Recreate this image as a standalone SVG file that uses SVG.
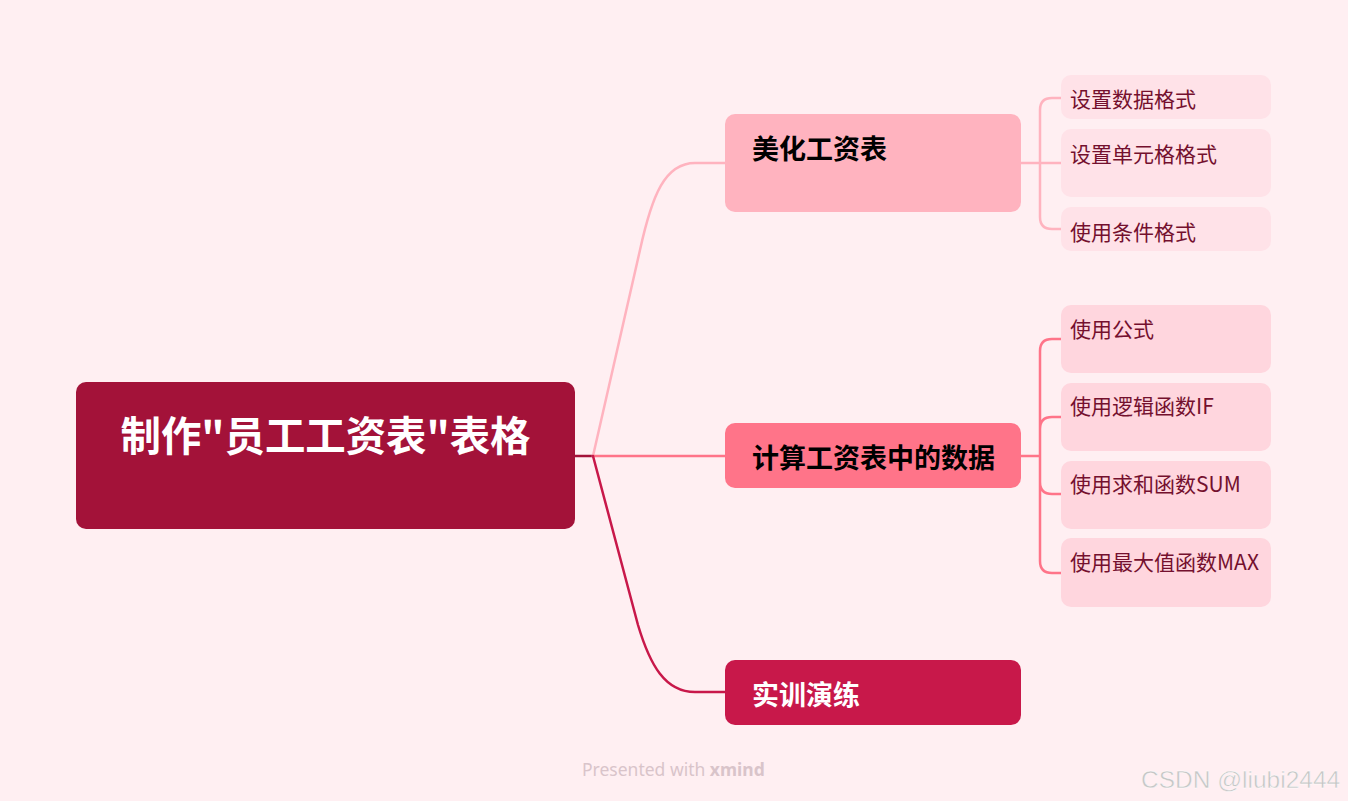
<svg xmlns="http://www.w3.org/2000/svg" width="1348" height="801" viewBox="0 0 1348 801">
<style>
.cjk{font-family:"Noto Sans CJK SC","Noto Sans",sans-serif}
.main{font-size:27px;font-weight:bold}
.sub{font-size:21px;fill:#74102E}
.s1{fill:#FFE2E8}
.s2{fill:#FFD6DE}
.ln{fill:none;stroke-width:2.5;stroke-linecap:round;stroke-linejoin:round}
</style>
<rect width="1348" height="801" fill="#FFEFF2"/>
<g id="connectors">
<path class="ln" stroke="#A31239" d="M575,456 L593,456"/>
<path class="ln" stroke="#FFB3BF" d="M593,456 L640,250 C652,195 665,163 695,163 L725,163"/>
<path class="ln" stroke="#FF7489" d="M593,456 L725,456"/>
<path class="ln" stroke="#C8184A" d="M593,456 L638,625 C650,665 665,692 695,692 L725,692"/>
<path class="ln" stroke="#FFB3BF" d="M1021,163 L1061,163 M1061,98 L1052,98 Q1040,98 1040,110 L1040,217 Q1040,229 1052,229 L1061,229"/>
<path class="ln" stroke="#FF7489" stroke-width="3" d="M1021,456 L1040,456 M1061,339 L1052,339 Q1040,339 1040,351 L1040,561 Q1040,573 1052,573 L1061,573 M1040,429 Q1040,417 1052,417 L1061,417 M1040,482 Q1040,494 1052,494 L1061,494"/>
</g>
<g id="root">
<rect x="76" y="382" width="499" height="147" rx="10" fill="#A31239"/>
<text class="cjk" x="325.5" y="451" text-anchor="middle" font-size="40.5" font-weight="bold" fill="#FFFFFF" textLength="410" lengthAdjust="spacingAndGlyphs">制作"员工工资表"表格</text>
</g>
<g id="b1">
<rect x="725" y="114" width="296" height="98" rx="10" fill="#FFB3BF"/>
<text class="cjk main" x="752" y="159" fill="#000000">美化工资表</text>
</g>
<g id="b2">
<rect x="725" y="423" width="296" height="65" rx="10" fill="#FF7489"/>
<text class="cjk main" x="752" y="468" fill="#000000">计算工资表中的数据</text>
</g>
<g id="b3">
<rect x="725" y="660" width="296" height="65" rx="10" fill="#C8184A"/>
<text class="cjk main" x="752" y="705" fill="#FFFFFF">实训演练</text>
</g>
<g id="s11"><rect class="s1" x="1061" y="75" width="210" height="44" rx="10"/><text class="cjk sub" x="1070" y="107">设置数据格式</text></g>
<g id="s12"><rect class="s1" x="1061" y="129" width="210" height="68" rx="10"/><text class="cjk sub" x="1070" y="162">设置单元格格式</text></g>
<g id="s13"><rect class="s1" x="1061" y="207" width="210" height="44" rx="10"/><text class="cjk sub" x="1070" y="240">使用条件格式</text></g>
<g id="s21"><rect class="s2" x="1061" y="305" width="210" height="68" rx="10"/><text class="cjk sub" x="1070" y="337">使用公式</text></g>
<g id="s22"><rect class="s2" x="1061" y="383" width="210" height="68" rx="10"/><text class="cjk sub" x="1070" y="414">使用逻辑函数IF</text></g>
<g id="s23"><rect class="s2" x="1061" y="461" width="210" height="68" rx="10"/><text class="cjk sub" x="1070" y="492">使用求和函数SUM</text></g>
<g id="s24"><rect class="s2" x="1061" y="538" width="210" height="69" rx="10"/><text class="cjk sub" x="1070" y="570">使用最大值函数MAX</text></g>
<text x="582" y="776" font-family="'Noto Sans',sans-serif" font-size="17.5" fill="#D9C4CA">Presented with <tspan font-weight="bold">xmind</tspan></text>
<text x="1141" y="788" font-family="'Liberation Sans',Arial,sans-serif" font-size="24.5" fill="#C6C6C6" stroke="#FFFFFF" stroke-width="0.4">CSDN @liubi2444</text>
</svg>
